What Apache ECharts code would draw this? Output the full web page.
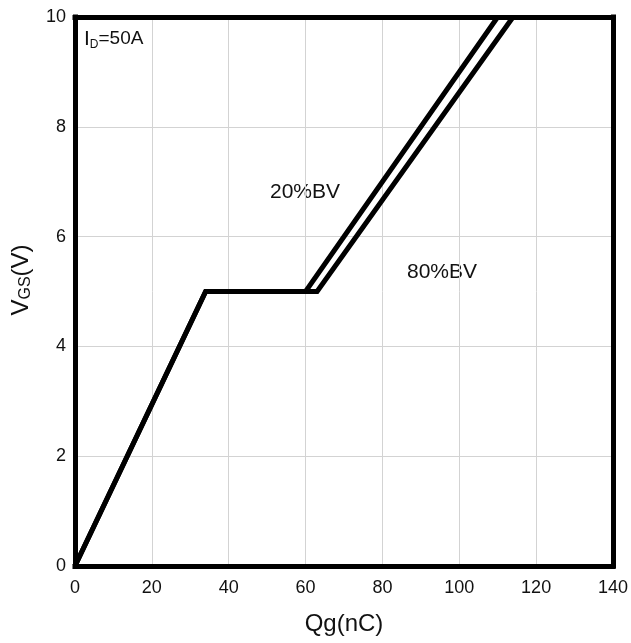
<!DOCTYPE html>
<html>
<head>
<meta charset="utf-8">
<script src="https://cdn.jsdelivr.net/npm/echarts@6/dist/echarts.min.js"></script>
<style>html,body{margin:0;padding:0;background:#fff}#c{width:631px;height:643px}</style>
</head>
<body>
<div id="c"></div>
<script>
const xTicks = [0, 20, 40, 60, 80, 100, 120, 140];
const yTicks = [0, 2, 4, 6, 8, 10];
const qg20 = [0, 34, 60, 110];
const vgs20 = [0, 5, 5, 10];
const qg80 = [0, 34, 63, 114];
const vgs80 = [0, 5, 5, 10];
const seriesNames = ['20%BV', '80%BV'];

const chart = echarts.init(document.getElementById('c'));
const font = 'Liberation Sans, Arial, sans-serif';
const ink = '#111';
function pts(xs, ys) { return xs.map((x, i) => [x, ys[i]]); }
const frame = { show: true, onZero: false, lineStyle: { color: '#000', width: 5, cap: 'square' } };
const split = { show: true, showMinLine: false, showMaxLine: false, lineStyle: { color: '#d3d3d3', width: 1 } };

chart.setOption({
  animation: false,
  backgroundColor: '#fff',
  grid: { left: 75, right: 18, top: 17, bottom: 77, show: false },
  xAxis: [{
    type: 'value', min: xTicks[0], max: xTicks[xTicks.length - 1], interval: 20, position: 'bottom',
    name: 'Qg(nC)', nameLocation: 'middle', nameGap: 46,
    nameTextStyle: { fontFamily: font, fontSize: 24, color: ink },
    axisLine: frame, axisTick: { show: false },
    axisLabel: { fontFamily: font, fontSize: 18, color: ink, margin: 13 },
    splitLine: split, z: 5
  }, {
    type: 'value', min: xTicks[0], max: xTicks[xTicks.length - 1], interval: 20, position: 'top',
    axisLine: frame, axisTick: { show: false }, axisLabel: { show: false }, splitLine: { show: false }, z: 5
  }],
  yAxis: [{
    type: 'value', min: yTicks[0], max: yTicks[yTicks.length - 1], interval: 2, position: 'left',
    axisLine: frame, axisTick: { show: false },
    axisLabel: { fontFamily: font, fontSize: 18, color: ink, margin: 9 },
    splitLine: split, z: 5
  }, {
    type: 'value', min: yTicks[0], max: yTicks[yTicks.length - 1], interval: 2, position: 'right',
    axisLine: frame, axisTick: { show: false }, axisLabel: { show: false }, splitLine: { show: false }, z: 5
  }],
  series: [
    { name: seriesNames[0], type: 'line', data: pts(qg20, vgs20), symbol: 'none', lineStyle: { color: '#000', width: 5, join: 'miter' }, clip: true, z: 10 },
    { name: seriesNames[1], type: 'line', data: pts(qg80, vgs80), symbol: 'none', lineStyle: { color: '#000', width: 5, join: 'miter' }, clip: true, z: 10 }
  ],
  graphic: [
    { type: 'text', x: 21, y: 280, rotation: Math.PI / 2,
      style: { text: '{v|V}{s|GS}{v|(V)}', align: 'center', verticalAlign: 'middle',
        rich: { v: { fontFamily: font, fontSize: 24, fill: ink }, s: { fontFamily: font, fontSize: 16, fill: ink, verticalAlign: 'bottom', padding: [10, 0, 0, 0] } } } },
    { type: 'text', x: 84, y: 27,
      style: { text: '{i|I}{s|D}{v|=50A}',
        rich: { i: { fontFamily: font, fontSize: 21, fill: ink }, v: { fontFamily: font, fontSize: 19, fill: ink }, s: { fontFamily: font, fontSize: 12, fill: ink, verticalAlign: 'bottom', padding: [12, 0, 0, 0] } } } },
    { type: 'text', x: 270, y: 192, style: { text: seriesNames[0], fontFamily: font, fontSize: 21, fill: ink, verticalAlign: 'middle' } },
    { type: 'text', x: 407, y: 272, style: { text: seriesNames[1], fontFamily: font, fontSize: 21, fill: ink, verticalAlign: 'middle' } }
  ]
});
</script>
</body>
</html>
